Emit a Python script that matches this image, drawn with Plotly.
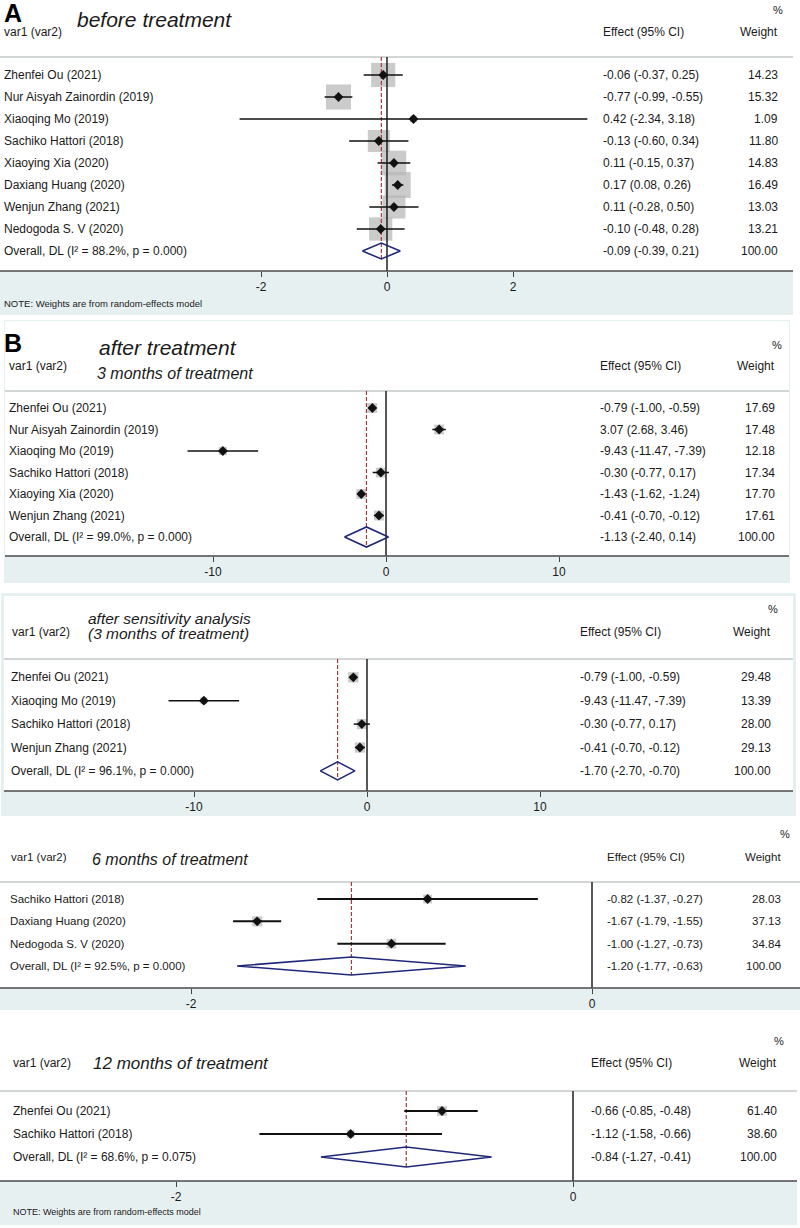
import math
import plotly.graph_objects as go

W, H = 800, 1228
FONT = "Liberation Sans, Arial, Helvetica, sans-serif"

# ---------------- DATA ----------------
# Panel A: before treatment
a_studies = ["Zhenfei Ou (2021)", "Nur Aisyah Zainordin (2019)", "Xiaoqing Mo (2019)",
             "Sachiko Hattori (2018)", "Xiaoying Xia (2020)", "Daxiang Huang (2020)",
             "Wenjun Zhang (2021)", "Nedogoda S. V (2020)"]
a_est = [-0.06, -0.77, 0.42, -0.13, 0.11, 0.17, 0.11, -0.10]
a_lo = [-0.37, -0.99, -2.34, -0.60, -0.15, 0.08, -0.28, -0.48]
a_hi = [0.25, -0.55, 3.18, 0.34, 0.37, 0.26, 0.50, 0.28]
a_wt = [14.23, 15.32, 1.09, 11.80, 14.83, 16.49, 13.03, 13.21]
a_overall = [-0.09, -0.39, 0.21]
a_overall_label = "Overall, DL (I² = 88.2%, p = 0.000)"
a_ticks = [-2, 0, 2]

# Panel B: after treatment, 3 months
b_studies = ["Zhenfei Ou (2021)", "Nur Aisyah Zainordin (2019)", "Xiaoqing Mo (2019)",
             "Sachiko Hattori (2018)", "Xiaoying Xia (2020)", "Wenjun Zhang (2021)"]
b_est = [-0.79, 3.07, -9.43, -0.30, -1.43, -0.41]
b_lo = [-1.00, 2.68, -11.47, -0.77, -1.62, -0.70]
b_hi = [-0.59, 3.46, -7.39, 0.17, -1.24, -0.12]
b_wt = [17.69, 17.48, 12.18, 17.34, 17.70, 17.61]
b_overall = [-1.13, -2.40, 0.14]
b_overall_label = "Overall, DL (I² = 99.0%, p = 0.000)"
b_ticks = [-10, 0, 10]

# Panel C: after sensitivity analysis (3 months)
c_studies = ["Zhenfei Ou (2021)", "Xiaoqing Mo (2019)", "Sachiko Hattori (2018)", "Wenjun Zhang (2021)"]
c_est = [-0.79, -9.43, -0.30, -0.41]
c_lo = [-1.00, -11.47, -0.77, -0.70]
c_hi = [-0.59, -7.39, 0.17, -0.12]
c_wt = [29.48, 13.39, 28.00, 29.13]
c_overall = [-1.70, -2.70, -0.70]
c_overall_label = "Overall, DL (I² = 96.1%, p = 0.000)"
c_ticks = [-10, 0, 10]

# Panel D: 6 months
d_studies = ["Sachiko Hattori (2018)", "Daxiang Huang (2020)", "Nedogoda S. V (2020)"]
d_est = [-0.82, -1.67, -1.00]
d_lo = [-1.37, -1.79, -1.27]
d_hi = [-0.27, -1.55, -0.73]
d_wt = [28.03, 37.13, 34.84]
d_overall = [-1.20, -1.77, -0.63]
d_overall_label = "Overall, DL (I² = 92.5%, p = 0.000)"
d_ticks = [-2, 0]

# Panel E: 12 months
e_studies = ["Zhenfei Ou (2021)", "Sachiko Hattori (2018)"]
e_est = [-0.66, -1.12]
e_lo = [-0.85, -1.58]
e_hi = [-0.48, -0.66]
e_wt = [61.40, 38.60]
e_overall = [-0.84, -1.27, -0.41]
e_overall_label = "Overall, DL (I² = 68.6%, p = 0.075)"
e_ticks = [-2, 0]

# ---------------- GEOMETRY (pixels) ----------------
panels = [
    dict(studies=a_studies, est=a_est, lo=a_lo, hi=a_hi, wt=a_wt, ov=a_overall, ovl=a_overall_label, ticks=a_ticks,
         zero=387, ppu=63.0, row0=75, sp=22.0, header=57, axis=271, bandb=315, top=0, left=0, right=793, inset=0,
         lab_x=2, eff_x=601, wt_r=780, pct=(778, 10), hdr_y=32, var_x=2, k=6.4, dh=8, lw=1.5, fs=12,
         titles=[("before treatment", 75, 19, 21)], letter=("A", 2, 13), note=(2, 303, 9.5)),
    dict(studies=b_studies, est=b_est, lo=b_lo, hi=b_hi, wt=b_wt, ov=b_overall, ovl=b_overall_label, ticks=b_ticks,
         zero=386, ppu=17.3, row0=408, sp=21.5, header=391, axis=556, bandb=583, top=320, left=4, right=790, inset=1,
         lab_x=7, eff_x=598, wt_r=777, pct=(777, 345), hdr_y=366, var_x=7, k=2.35, dh=10, lw=1.5, fs=12,
         titles=[("after treatment", 97, 347, 21), ("3 months of treatment", 95, 373, 16)], letter=("B", 2, 343), note=None),
    dict(studies=c_studies, est=c_est, lo=c_lo, hi=c_hi, wt=c_wt, ov=c_overall, ovl=c_overall_label, ticks=c_ticks,
         zero=367, ppu=17.3, row0=677.3, sp=23.4, header=659, axis=791, bandb=816, top=593, left=1, right=796, inset=3,
         lab_x=9, eff_x=578, wt_r=773, pct=(773, 609), hdr_y=632, var_x=10, k=1.9, dh=9, lw=1.5, fs=12,
         titles=[("after sensitivity analysis", 86, 618, 15.5), ("(3 months of treatment)", 86, 633, 15.5)],
         letter=None, note=None),
    dict(studies=d_studies, est=d_est, lo=d_lo, hi=d_hi, wt=d_wt, ov=d_overall, ovl=d_overall_label, ticks=d_ticks,
         zero=592, ppu=200.5, row0=899, sp=22.33, header=882, axis=988, bandb=1010, top=822, left=0, right=800, inset=0,
         lab_x=8, eff_x=605, wt_r=783, pct=(785, 834), hdr_y=857, var_x=9, k=1.65, dh=9, lw=2, fs=11.5,
         titles=[("6 months of treatment", 90, 859, 16)], letter=None, note=None),
    dict(studies=e_studies, est=e_est, lo=e_lo, hi=e_hi, wt=e_wt, ov=e_overall, ovl=e_overall_label, ticks=e_ticks,
         zero=573, ppu=198.5, row0=1111, sp=23.0, header=1091, axis=1181, bandb=1225, top=1022, left=0, right=797, inset=0,
         lab_x=11, eff_x=589, wt_r=779, pct=(779, 1041), hdr_y=1063, var_x=11, k=1.25, dh=10, lw=2, fs=12,
         titles=[("12 months of treatment", 91, 1063, 17)], letter=None, note=(11, 1212, 9)),
]

BAND = "#e7f0f1"
TXT = "#1a1a1a"


def py(p):
    return 1 - p / H


def px(p):
    return p / W


fig = go.Figure()
shapes = []
annotations = []
layout_axes = {}

for i, p in enumerate(panels, start=1):
    xa = "x" if i == 1 else f"x{i}"
    ya = "y" if i == 1 else f"y{i}"
    n = len(p["studies"])
    rows = list(range(n))
    top_val = (p["header"] - p["row0"]) / p["sp"]
    bot_val = (p["axis"] - p["row0"]) / p["sp"]
    half = p["dh"] / p["sp"]
    xr = [(0 - p["zero"]) / p["ppu"], (W - p["zero"]) / p["ppu"]]

    # backgrounds
    shapes.append(dict(type="rect", xref="paper", yref="paper", layer="below",
                       x0=px(p["left"]), x1=px(p["right"]), y0=py(p["bandb"]), y1=py(p["top"]),
                       fillcolor=BAND, line=dict(width=0)))
    shapes.append(dict(type="rect", xref="paper", yref="paper", layer="below",
                       x0=px(p["left"] + p["inset"]), x1=px(p["right"] - p["inset"]),
                       y0=py(p["axis"]), y1=py(p["top"] + p["inset"]),
                       fillcolor="white", line=dict(width=0)))
    # header line
    shapes.append(dict(type="line", xref="paper", yref="paper", layer="below",
                       x0=px(p["left"] + p["inset"]), x1=px(p["right"] - p["inset"]),
                       y0=py(p["header"]), y1=py(p["header"]),
                       line=dict(color="#d3d6d6", width=2)))
    # axis line
    shapes.append(dict(type="line", xref="paper", yref="paper",
                       x0=px(p["left"] + p["inset"]), x1=px(p["right"] - p["inset"]),
                       y0=py(p["axis"]), y1=py(p["axis"]),
                       line=dict(color="#4a4a4a", width=1.6)))

    # boxes
    fig.add_trace(go.Scatter(
        x=p["est"], y=rows, xaxis=xa, yaxis=ya, mode="markers", hoverinfo="skip",
        marker=dict(symbol="square", size=[p["k"] * math.sqrt(w) for w in p["wt"]],
                    color="#b5b5b5", line=dict(width=0))))
    # zero line
    fig.add_trace(go.Scatter(x=[0, 0], y=[top_val, bot_val], xaxis=xa, yaxis=ya, mode="lines",
                             line=dict(color="#111111", width=1.4), hoverinfo="skip"))
    # overall dashed line
    fig.add_trace(go.Scatter(x=[p["ov"][0], p["ov"][0]], y=[top_val, n + half], xaxis=xa, yaxis=ya,
                             mode="lines", line=dict(color="#a23a3a", width=1.2, dash="4px,2px"),
                             hoverinfo="skip"))
    # CI lines
    cx, cy = [], []
    for r, lo, hi in zip(rows, p["lo"], p["hi"]):
        cx += [lo, hi, None]
        cy += [r, r, None]
    fig.add_trace(go.Scatter(x=cx, y=cy, xaxis=xa, yaxis=ya, mode="lines",
                             line=dict(color="#111111", width=p["lw"]), hoverinfo="skip"))
    # point estimates
    fig.add_trace(go.Scatter(x=p["est"], y=rows, xaxis=xa, yaxis=ya, mode="markers", hoverinfo="skip",
                             marker=dict(symbol="diamond", size=7.5, color="#111111")))
    # overall diamond
    est, lo, hi = p["ov"]
    fig.add_trace(go.Scatter(x=[lo, est, hi, est, lo], y=[n, n - half, n, n + half, n],
                             xaxis=xa, yaxis=ya, mode="lines", hoverinfo="skip",
                             line=dict(color="#1f2878", width=1.6)))

    layout_axes["xaxis" if i == 1 else f"xaxis{i}"] = dict(
        domain=[0, 1], range=xr, anchor=ya, showgrid=False, zeroline=False, showline=False,
        ticks="outside", ticklen=5, tickwidth=1, tickcolor="#444",
        tickvals=p["ticks"], ticktext=[str(t) for t in p["ticks"]],
        tickfont=dict(family=FONT, size=12, color=TXT), fixedrange=True)
    layout_axes["yaxis" if i == 1 else f"yaxis{i}"] = dict(
        domain=[py(p["axis"]), py(p["header"])], range=[bot_val, top_val], anchor=xa,
        showgrid=False, zeroline=False, showline=False, showticklabels=False, ticks="",
        fixedrange=True)

    fs = p["fs"]
    # rows text
    labels = p["studies"] + [p["ovl"]]
    effs = [f"{e:.2f} ({l:.2f}, {h:.2f})" for e, l, h in zip(p["est"], p["lo"], p["hi"])]
    effs.append(f"{p['ov'][0]:.2f} ({p['ov'][1]:.2f}, {p['ov'][2]:.2f})")
    wts = [f"{w:.2f}" for w in p["wt"]] + ["100.00"]
    for r, (lab, ef, wt) in enumerate(zip(labels, effs, wts)):
        annotations.append(dict(text=lab, xref="paper", yref=ya, x=px(p["lab_x"]), y=r,
                                xanchor="left", yanchor="middle", showarrow=False,
                                font=dict(family=FONT, size=fs, color=TXT)))
        annotations.append(dict(text=ef, xref="paper", yref=ya, x=px(p["eff_x"]), y=r,
                                xanchor="left", yanchor="middle", showarrow=False,
                                font=dict(family=FONT, size=fs, color=TXT)))
        annotations.append(dict(text=wt, xref="paper", yref=ya, x=px(p["wt_r"]), y=r,
                                xanchor="right", yanchor="middle", showarrow=False,
                                font=dict(family=FONT, size=fs, color=TXT)))
    # headers
    annotations.append(dict(text="var1 (var2)", xref="paper", yref="paper", x=px(p["var_x"]),
                            y=py(p["hdr_y"]), xanchor="left", yanchor="middle", showarrow=False,
                            font=dict(family=FONT, size=fs, color=TXT)))
    annotations.append(dict(text="Effect (95% CI)", xref="paper", yref="paper", x=px(p["eff_x"]),
                            y=py(p["hdr_y"]), xanchor="left", yanchor="middle", showarrow=False,
                            font=dict(family=FONT, size=fs, color=TXT)))
    annotations.append(dict(text="Weight", xref="paper", yref="paper", x=px(p["wt_r"]),
                            y=py(p["hdr_y"]), xanchor="right", yanchor="middle", showarrow=False,
                            font=dict(family=FONT, size=fs, color=TXT)))
    annotations.append(dict(text="%", xref="paper", yref="paper", x=px(p["pct"][0]),
                            y=py(p["pct"][1]), xanchor="center", yanchor="middle", showarrow=False,
                            font=dict(family=FONT, size=11, color=TXT)))
    for (t, tx, ty, ts) in p["titles"]:
        annotations.append(dict(text=f"<i>{t}</i>", xref="paper", yref="paper", x=px(tx), y=py(ty),
                                xanchor="left", yanchor="middle", showarrow=False,
                                font=dict(family=FONT, size=ts, color=TXT)))
    if p["letter"]:
        l, lx, ly = p["letter"]
        annotations.append(dict(text=f"<b>{l}</b>", xref="paper", yref="paper", x=px(lx), y=py(ly),
                                xanchor="left", yanchor="middle", showarrow=False,
                                font=dict(family=FONT, size=25, color="#000")))
    if p["note"]:
        nx, ny, ns = p["note"]
        annotations.append(dict(text="NOTE: Weights are from random-effects model", xref="paper",
                                yref="paper", x=px(nx), y=py(ny), xanchor="left", yanchor="middle",
                                showarrow=False, font=dict(family=FONT, size=ns, color=TXT)))

fig.update_layout(
    width=W, height=H, margin=dict(l=0, r=0, t=0, b=0),
    paper_bgcolor="white", plot_bgcolor="rgba(0,0,0,0)",
    showlegend=False, shapes=shapes, annotations=annotations, hovermode=False,
    font=dict(family=FONT, color=TXT), **layout_axes)

fig.write_html("out.html", config={"displayModeBar": False, "staticPlot": True},
               post_script="document.body.style.margin='0';document.body.style.overflow='hidden';")
